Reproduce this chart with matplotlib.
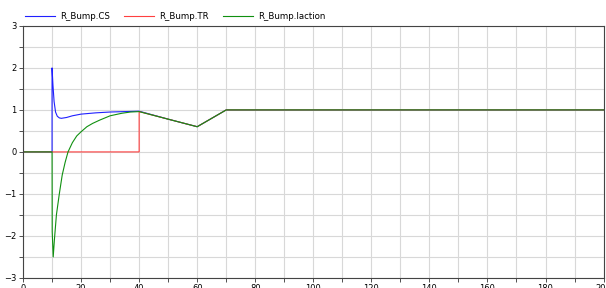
# Step response of R_Bump: CS, TR and Iaction against time
import matplotlib.pyplot as plt
import numpy as np

# values
t_cs = [0, 10, 10, 10.3, 10.7, 11.2, 11.8, 12.5, 13.2, 15, 17, 20, 25, 30, 35, 40, 50, 60, 70, 100, 200]
cs = [0, 0, 2.0, 1.6, 1.2, 0.95, 0.85, 0.81, 0.80, 0.82, 0.86, 0.90, 0.93, 0.95, 0.96, 0.97, 0.78, 0.6, 1.0, 1.0, 1.0]

t_tr = [0, 40, 40, 50, 60, 70, 100, 200]
tr = [0, 0, 0.96, 0.78, 0.6, 1.0, 1.0, 1.0]

t_ia = [0, 10, 10.05, 10.4, 10.8, 11.5, 12.5, 13.5, 14.5, 15.5, 17, 18.5, 20, 22, 24, 26.5, 30, 34, 37, 40, 50, 60, 70, 100, 200]
ia = [0, 0, -1.9, -2.5, -2.1, -1.5, -1.0, -0.55, -0.25, 0.0, 0.22, 0.38, 0.48, 0.6, 0.68, 0.76, 0.86, 0.92, 0.95, 0.96, 0.78, 0.6, 1.0, 1.0, 1.0]

names = ["R_Bump.CS", "R_Bump.TR", "R_Bump.Iaction"]

fig = plt.figure(figsize=(6.06, 2.88), dpi=100)
ax = fig.add_axes([0.038, 0.035, 0.958, 0.875])

ax.plot(t_cs, cs, color="#2020ff", lw=0.8, label=names[0])
ax.plot(t_tr, tr, color="#ff4040", lw=0.8, label=names[1])
ax.plot(t_ia, ia, color="#109010", lw=0.8, label=names[2])

ax.set_xlim(0, 200)
ax.set_ylim(-3, 3)
ax.set_xticks(np.arange(0, 201, 20))
ax.set_xticks(np.arange(10, 200, 20), minor=True)
ax.set_yticks(np.arange(-3, 4, 1))
ax.set_yticks(np.arange(-2.5, 3, 1), minor=True)
ax.grid(which="both", color="#d8d8d8", lw=0.8)
ax.set_axisbelow(True)
ax.tick_params(which="both", labelsize=6, length=3, width=0.6, color="#333333", pad=1.5)
for s in ax.spines.values():
    s.set_color("#444444")
    s.set_linewidth(0.8)

ax.legend(loc="lower left", bbox_to_anchor=(-0.005, 1.0), ncol=3, frameon=False,
          fontsize=6.2, handlelength=3.5, handletextpad=0.6, columnspacing=1.6,
          borderaxespad=0.2)

fig.savefig("out.png", dpi=100)
